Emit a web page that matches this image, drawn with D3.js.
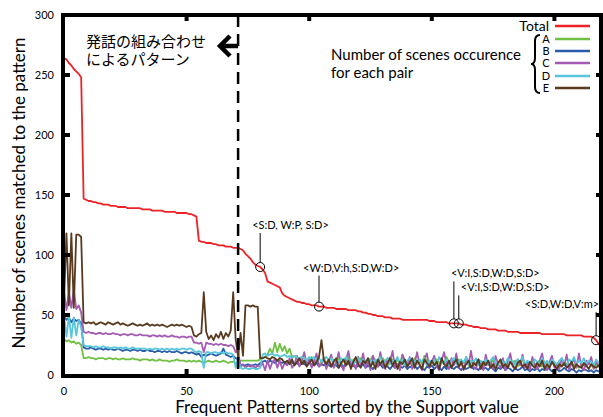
<!DOCTYPE html>
<html>
<head>
<meta charset="utf-8">
<script src="https://cdn.jsdelivr.net/npm/d3@7"></script>
<style>
  body { margin: 0; background: #fff; }
  text { font-family: Lato, "Open Sans", sans-serif; fill: #000; }
  .jp { font-family: "Noto Sans CJK JP", sans-serif; }
</style>
</head>
<body>
<div id="chart"></div>
<script>
// values, index 0..219 (pattern rank)
var total = [
  264,263,260,258,255,253,251,248,
  147,146,145,145,144,144,143,143,142,142,142,141,141,141,140,140,140,140,139,139,139,139,139,139,138,138,138,138,137,137,137,137,137,136,136,136,136,136,135,135,135,135,135,134,134,133,132,
  112,111,111,110,110,110,109,109,108,108,108,107,107,107,106,106,106,105,104,
  101,99,97,94,92,91,90,88,85,
  78,77,76,75,74,73,68,66,65,64,
  63,62,61,61,60,60,59,59,58,58,
  58,57,57,57,56,56,56,56,55,55,
  55,55,55,54,54,54,54,53,53,52,
  52,51,51,50,50,49,49,49,48,48,
  48,47,47,47,47,46,46,46,46,46,
  46,46,46,46,46,46,45,45,45,44,
  44,44,44,44,43,43,43,43,43,42,
  42,42,41,41,40,40,40,39,39,39,
  38,38,38,38,37,37,37,37,36,36,
  36,36,36,35,35,35,35,35,35,35,
  35,35,34,34,34,34,34,34,34,34,
  34,34,33,33,33,33,33,33,33,32,
  32,32,32,31,29,26,24,22,21
];
var seriesA = [
  30,28,29,27,28,26,27,25,
  14,14,15,14,14,13,14,14,14,13,14,14,13,14,13,13,14,13,13,13,14,13,13,12,13,13,13,12,13,12,12,13,12,12,12,11,12,12,13,12,12,12,11,12,11,
  12,11,12,11,10,11,12,11,11,12,11,11,12,11,10,11,11,10,9,
  12,12,12,12,12,12,12,12,13,
  14,15,17,22,18,27,19,26,20,24,
  18,22,15,16,14,12,15,9,13,11,
  15,10,13,8,12,14,10,12,7,13,
  11,14,9,12,10,15,8,13,11,9,
  14,10,12,7,13,16,10,12,9,14,
  11,8,15,12,10,13,9,17,11,10,
  12,8,14,10,13,9,16,11,10,12,
  8,13,10,12,9,15,11,8,12,10,
  13,9,11,14,8,10,12,9,13,10,
  7,12,10,9,13,8,11,10,12,9,
  8,11,9,12,7,10,13,8,10,9,
  11,8,10,12,7,9,11,8,10,9,
  7,10,8,11,9,7,10,8,9,6,
  9,8,7,10,8,6,9,7,8
];
var seriesB = [
  49,46,48,44,47,45,46,43,
  23,22,22,23,22,21,22,22,21,22,21,22,21,21,22,21,20,21,21,20,21,21,20,21,20,20,21,20,20,19,20,20,19,20,19,20,19,19,20,19,18,19,19,18,19,
  18,17,18,15,17,16,17,18,17,16,17,18,22,17,16,15,16,14,13,
  9,8,8,9,8,8,9,8,10,
  11,12,10,12,11,10,12,11,10,11,
  9,11,10,9,10,8,10,9,8,10,
  9,8,10,7,9,8,10,8,7,9,
  8,6,9,7,8,10,7,8,6,8,
  7,9,6,8,7,5,8,7,9,6,
  8,7,5,8,6,9,7,6,8,5,
  7,6,8,5,7,6,4,7,6,8,
  5,7,6,4,7,5,8,6,5,7,
  6,4,7,5,6,8,5,6,4,7,
  5,6,4,7,5,3,6,5,7,4,
  6,5,3,6,4,5,7,4,5,3,
  5,4,6,3,5,4,6,5,3,4,
  5,3,4,6,4,3,5,4,2,4,
  3,5,4,3,4,2,4,3,4
];
var seriesC = [
  70,54,69,56,71,55,58,52,
  36,35,36,35,35,34,35,35,34,35,34,34,35,34,34,33,34,34,33,34,34,33,33,34,33,33,33,32,33,33,32,33,32,33,32,32,33,32,32,31,32,32,31,32,32,
  27,27,26,27,19,27,26,26,25,26,25,26,25,25,24,25,24,19,20,
  7,9,6,8,7,8,6,8,7,
  10,4,12,5,11,13,6,12,5,10,
  8,14,6,9,16,7,12,19,8,13,
  6,11,18,7,9,14,5,12,17,6,
  10,19,8,4,13,20,7,11,5,15,
  9,18,6,12,4,16,10,7,19,8,
  5,14,11,20,6,9,4,17,12,7,
  15,5,10,19,8,4,13,18,6,11,
  16,7,4,12,19,9,5,14,8,18,
  6,11,4,15,9,20,7,5,13,10,
  4,17,8,12,5,16,9,6,14,4,
  11,18,7,5,13,8,17,6,10,4,
  15,9,5,12,18,7,4,11,16,6,
  9,5,14,8,17,4,10,13,6,18,
  7,4,12,9,15,5,11,8,6
];
var seriesD = [
  50,32,49,31,48,33,46,40,
  25,24,24,24,23,24,23,23,24,23,23,22,23,23,22,23,22,23,22,22,23,22,22,22,22,22,21,22,21,22,22,21,22,21,22,21,22,21,22,21,22,22,21,22,22,
  20,19,20,19,6,19,19,18,19,19,18,19,18,19,18,18,17,6,14,
  6,5,6,5,5,6,5,5,6,
  17,18,16,17,18,16,17,15,16,17,
  15,16,14,16,15,13,15,14,12,15,
  13,15,12,14,11,13,15,12,14,11,
  13,10,14,12,15,11,13,9,12,14,
  11,13,10,14,12,9,13,11,15,10,
  12,14,9,12,11,15,10,13,8,12,
  14,10,12,9,13,11,14,8,12,10,
  13,9,15,11,10,13,8,12,14,9,
  11,13,10,15,9,12,11,14,8,12,
  10,13,9,12,15,10,8,13,11,9,
  14,10,12,8,13,11,15,9,12,10,
  8,13,11,9,14,10,12,8,13,11,
  9,12,14,10,8,13,11,15,9,12,
  10,14,9,12,11,8,13,10,11
];
var seriesE = [
  62,118,58,118,56,117,117,115,
  44,43,44,43,44,42,43,44,43,42,44,43,42,43,44,42,43,42,41,42,43,42,41,42,41,42,43,41,42,41,42,41,42,41,40,41,42,41,42,41,42,41,40,41,40,
  33,32,34,35,69,36,30,33,29,34,31,36,30,35,32,37,69,30,15,
  35,16,58,58,57,58,57,57,14,
  14,15,14,13,15,14,12,14,13,10,
  12,9,13,8,11,14,9,12,7,10,
  13,8,11,15,29,12,9,13,7,11,
  14,6,10,13,8,12,5,11,15,9,
  6,12,10,14,7,11,5,13,9,12,
  6,10,14,8,12,5,11,9,13,7,
  10,14,6,12,9,5,13,10,7,12,
  8,11,5,14,9,7,12,6,10,13,
  7,11,5,9,12,6,10,8,13,5,
  11,8,12,6,9,5,10,13,7,9,
  6,11,8,5,10,12,7,9,5,11,
  8,6,10,7,12,5,9,6,11,8,
  5,9,7,10,6,8,11,5,9,7,
  6,10,8,5,9,7,6,8,5
];
var seriesNames = ["Total", "A", "B", "C", "D", "E"];
var xTicks = [0, 50, 100, 150, 200];
var yTicks = [0, 50, 100, 150, 200, 250, 300];
var boundaryIndex = 71;
var noteIndex = [80, 104, 159, 161, 217];
var noteLabels = ["<S:D, W:P, S:D>", "<W:D,V:h,S:D,W:D>", "<V:I,S:D,W:D,S:D>", "<V:I,S:D,W:D,S:D>", "<S:D,W:D,V:m>"];

var colors = ["#ec2227", "#70c043", "#2a5ca9", "#a55bb4", "#57c6dc", "#5a3a1f"];
// label offsets from each circle: [dx, baseline dy, anchor]
var noteOffsets = [[-8, -38, "start"], [-16, -35, "start"], [-3, -46, "start"], [2, -32, "start"], [3, -32, "end"]];

var width = 603, height = 417;
var plotLeft = 64, plotRight = 601, plotTop = 15, plotBottom = 375;

var svg = d3.select("#chart").append("svg")
  .attr("width", width)
  .attr("height", height);

var x = d3.scaleLinear().domain([0, 219]).range([plotLeft, plotRight]);
var y = d3.scaleLinear().domain([0, 300]).range([plotBottom, plotTop]);

var line = d3.line()
  .x(function (d, i) { return x(i); })
  .y(function (d) { return y(d); });

/* ------- SERIES ------- */
var allSeries = [seriesA, seriesB, seriesC, seriesD, seriesE, total];
var allColors = [colors[1], colors[2], colors[3], colors[4], colors[5], colors[0]];
svg.append("g").selectAll("path")
  .data(allSeries)
  .enter().append("path")
  .attr("d", line)
  .attr("fill", "none")
  .attr("stroke", function (d, i) { return allColors[i]; })
  .attr("stroke-width", 1.8)
  .attr("stroke-linejoin", "round");

/* ------- FRAME + TICKS ------- */
svg.append("rect")
  .attr("x", plotLeft - 1).attr("y", plotTop)
  .attr("width", plotRight - plotLeft + 1).attr("height", plotBottom - plotTop + 1)
  .attr("fill", "none").attr("stroke", "#000").attr("stroke-width", 4);

var tk = svg.append("g").attr("fill", "#000");
xTicks.forEach(function (t) {
  if (t === 0) return;
  tk.append("rect").attr("x", x(t) - 2).attr("y", plotTop).attr("width", 4).attr("height", 6);
  tk.append("rect").attr("x", x(t) - 2).attr("y", plotBottom - 6).attr("width", 4).attr("height", 6);
});
yTicks.forEach(function (t) {
  if (t === 0 || t === 300) return;
  tk.append("rect").attr("x", plotLeft).attr("y", y(t) - 2).attr("width", 6).attr("height", 4);
  tk.append("rect").attr("x", plotRight - 5).attr("y", y(t) - 2).attr("width", 6).attr("height", 4);
});

svg.append("g").selectAll("text")
  .data(xTicks)
  .enter().append("text")
  .attr("x", function (d) { return x(d); })
  .attr("y", 395)
  .attr("text-anchor", "middle")
  .style("font-size", "11px")
  .text(function (d) { return d; });

svg.append("g").selectAll("text")
  .data(yTicks)
  .enter().append("text")
  .attr("x", 54)
  .attr("y", function (d) { return y(d); })
  .attr("dy", "0.35em")
  .attr("text-anchor", "end")
  .style("font-size", "11px")
  .text(function (d) { return d; });

svg.append("text")
  .attr("x", 347).attr("y", 413)
  .attr("text-anchor", "middle")
  .style("font-size", "17px")
  .text("Frequent Patterns sorted by the Support value");

svg.append("text")
  .attr("transform", "translate(25,193) rotate(-90)")
  .attr("text-anchor", "middle")
  .style("font-size", "17px")
  .text("Number of scenes matched to the pattern");

/* ------- BOUNDARY + ARROW ------- */
svg.append("line")
  .attr("x1", x(boundaryIndex)).attr("x2", x(boundaryIndex))
  .attr("y1", plotTop).attr("y2", plotBottom)
  .attr("stroke", "#000").attr("stroke-width", 2.5)
  .attr("stroke-dasharray", "12,7");

svg.append("path")
  .attr("d", "M230,36 L220,46 L230,56 M220,46 L" + x(boundaryIndex) + ",46")
  .attr("fill", "none").attr("stroke", "#000").attr("stroke-width", 4.5);

svg.append("text").attr("class", "jp")
  .attr("x", 86).attr("y", 47)
  .style("font-size", "15px")
  .text("発話の組み合わせ");
svg.append("text").attr("class", "jp")
  .attr("x", 86).attr("y", 65)
  .style("font-size", "15px")
  .text("によるパターン");

/* ------- ANNOTATIONS ------- */
var notes = svg.append("g");
noteIndex.forEach(function (n, k) {
  var cx = x(n), cy = y(total[n]), off = noteOffsets[k];
  notes.append("circle")
    .attr("cx", cx).attr("cy", cy).attr("r", 4.5)
    .attr("fill", "none").attr("stroke", "#000").attr("stroke-width", 1);
  notes.append("line")
    .attr("x1", cx).attr("x2", cx)
    .attr("y1", cy + off[1] + 4).attr("y2", cy - 4.5)
    .attr("stroke", "#000").attr("stroke-width", 1);
  notes.append("text")
    .attr("x", cx + off[0]).attr("y", cy + off[1])
    .attr("text-anchor", off[2])
    .style("font-size", "11px")
    .text(noteLabels[k]);
});

/* ------- LEGEND ------- */
var legY = [26, 39, 51, 63, 76, 88];
var leg = svg.append("g");
seriesNames.forEach(function (name, i) {
  leg.append("line")
    .attr("x1", 555).attr("x2", 590)
    .attr("y1", legY[i]).attr("y2", legY[i])
    .attr("stroke", colors[i]).attr("stroke-width", 2.5);
  leg.append("text")
    .attr("x", i === 0 ? 549 : 546)
    .attr("y", legY[i] + (i === 0 ? 5 : 4))
    .attr("text-anchor", i === 0 ? "end" : "middle")
    .style("font-size", i === 0 ? "14px" : "11px")
    .text(name);
});
leg.append("path")
  .attr("d", "M540,35 Q535,35 535,41 L535,58 Q535,64 531,64 Q535,64 535,70 L535,87 Q535,93 540,93")
  .attr("fill", "none").attr("stroke", "#000").attr("stroke-width", 2);

svg.append("text")
  .attr("x", 331).attr("y", 60)
  .style("font-size", "15px")
  .text("Number of scenes occurence");
svg.append("text")
  .attr("x", 331).attr("y", 78)
  .style("font-size", "15px")
  .text("for each pair");
</script>
</body>
</html>
